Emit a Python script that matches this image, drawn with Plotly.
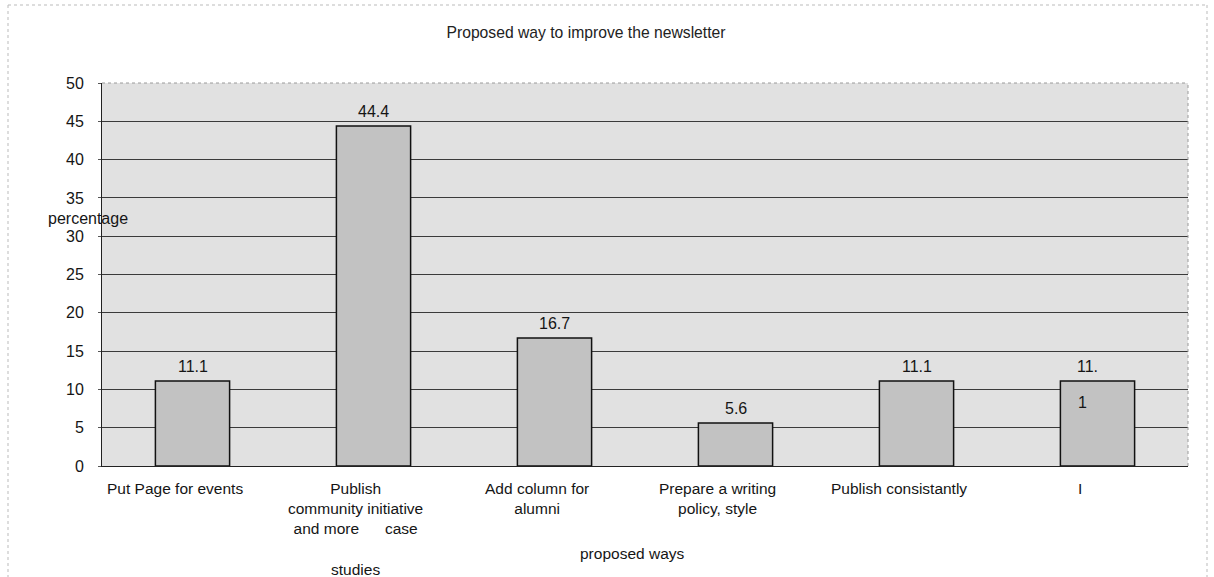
import plotly.graph_objects as go

# Survey result: proposed ways to improve the newsletter (percent of responses)
categories = [
    "Put Page for events",
    "Publish community initiative and more case studies",
    "Add column for alumni",
    "Prepare a writing policy, style",
    "Publish consistantly",
    "I",
]
tick_labels = [
    "Put Page for events",
    "Publish<br>community initiative<br>and more      case<br> <br>studies",
    "Add column for<br>alumni",
    "Prepare a writing<br>policy, style",
    "Publish consistantly",
    "I",
]
values = [11.1, 44.4, 16.7, 5.6, 11.1, 11.1]
y_ticks = list(range(0, 55, 5))

FONT = "Liberation Sans, Arial, sans-serif"
INK = "#151515"

# plot-area geometry in pixels
L, R, T, B = 102, 1188, 83, 466
PW, PH = R - L, B - T


def px(x):
    return (x - L) / PW


def py(y):
    return (B - y) / PH


fig = go.Figure()
fig.add_trace(go.Bar(
    x=categories,
    y=values,
    marker=dict(color="#c2c2c2", line=dict(color="#111111", width=1.5)),
    width=0.41,
    hoverinfo="x+y",
))

annotations = []
# value labels above each bar (the last one wraps onto the bar)
for i, (c, v) in enumerate(zip(categories, values)):
    txt = f"{v:.1f}"
    if i == len(values) - 1:
        head, tail = txt[:-1], txt[-1]
        annotations.append(dict(x=c, y=v, xref="x", yref="y", text=head,
                                showarrow=False, yanchor="bottom", yshift=4,
                                xanchor="left", xshift=-23,
                                font=dict(family=FONT, size=16, color=INK)))
        annotations.append(dict(x=c, y=v, xref="x", yref="y", text=tail,
                                showarrow=False, yanchor="top", yshift=-11,
                                xanchor="left", xshift=-22,
                                font=dict(family=FONT, size=16, color=INK)))
    else:
        annotations.append(dict(x=c, y=v, xref="x", yref="y", text=txt,
                                showarrow=False, yanchor="bottom", yshift=4,
                                font=dict(family=FONT, size=16, color=INK)))

# category labels under the axis
for c, lab in zip(categories, tick_labels):
    annotations.append(dict(x=c, y=0, xref="x", yref="paper", text=lab,
                            showarrow=False, yanchor="top", yshift=-12,
                            xshift=-18, align="center",
                            font=dict(family=FONT, size=15.5, color=INK)))

# axis titles
annotations += [
    dict(text="percentage", x=px(88), y=py(218), xref="paper", yref="paper",
         xanchor="center", yanchor="middle", showarrow=False,
         font=dict(family=FONT, size=16, color=INK)),
    dict(text="proposed ways", x=px(632), y=py(553), xref="paper",
         yref="paper", xanchor="center", yanchor="middle", showarrow=False,
         font=dict(family=FONT, size=15.5, color=INK)),
]

frame = dict(color="#bbbbbb", width=1, dash="dot")
border = dict(color="#9a9a9a", width=1, dash="dot")

fig.update_layout(
    width=1214, height=577,
    margin=dict(l=L, r=1214 - R, t=T, b=577 - B),
    paper_bgcolor="white",
    plot_bgcolor="#e1e1e1",
    title=dict(text="Proposed way to improve the newsletter",
               x=586 / 1214, y=1 - 33 / 577, xanchor="center",
               yanchor="middle",
               font=dict(family=FONT, size=15.7, color="#222")),
    showlegend=False,
    bargap=0.59,
    annotations=annotations,
    xaxis=dict(showticklabels=False, showgrid=False, zeroline=False,
               showline=True, linecolor="#222", linewidth=1, ticks=""),
    yaxis=dict(range=[0, 50], tickvals=y_ticks, showgrid=True,
               gridcolor="#3a3a3a", gridwidth=1, zeroline=False,
               showline=True, linecolor="#222", linewidth=1,
               ticks="outside", ticklen=3, tickcolor="#555",
               ticklabelstandoff=11,
               tickfont=dict(family=FONT, size=16, color=INK)),
    shapes=[
        # outer chart frame (left, top, right edges)
        dict(type="line", xref="paper", yref="paper",
             x0=px(8), x1=px(8), y0=py(5), y1=py(577), line=frame),
        dict(type="line", xref="paper", yref="paper",
             x0=px(8), x1=px(1207), y0=py(5), y1=py(5), line=frame),
        dict(type="line", xref="paper", yref="paper",
             x0=px(1207), x1=px(1207), y0=py(5), y1=py(577), line=frame),
        # plot-area border on the top and right
        dict(type="line", xref="paper", yref="paper", x0=0, x1=1, y0=1, y1=1,
             line=border),
        dict(type="line", xref="paper", yref="paper", x0=1, x1=1, y0=0, y1=1,
             line=border),
    ],
)

fig.write_html("out.html")
